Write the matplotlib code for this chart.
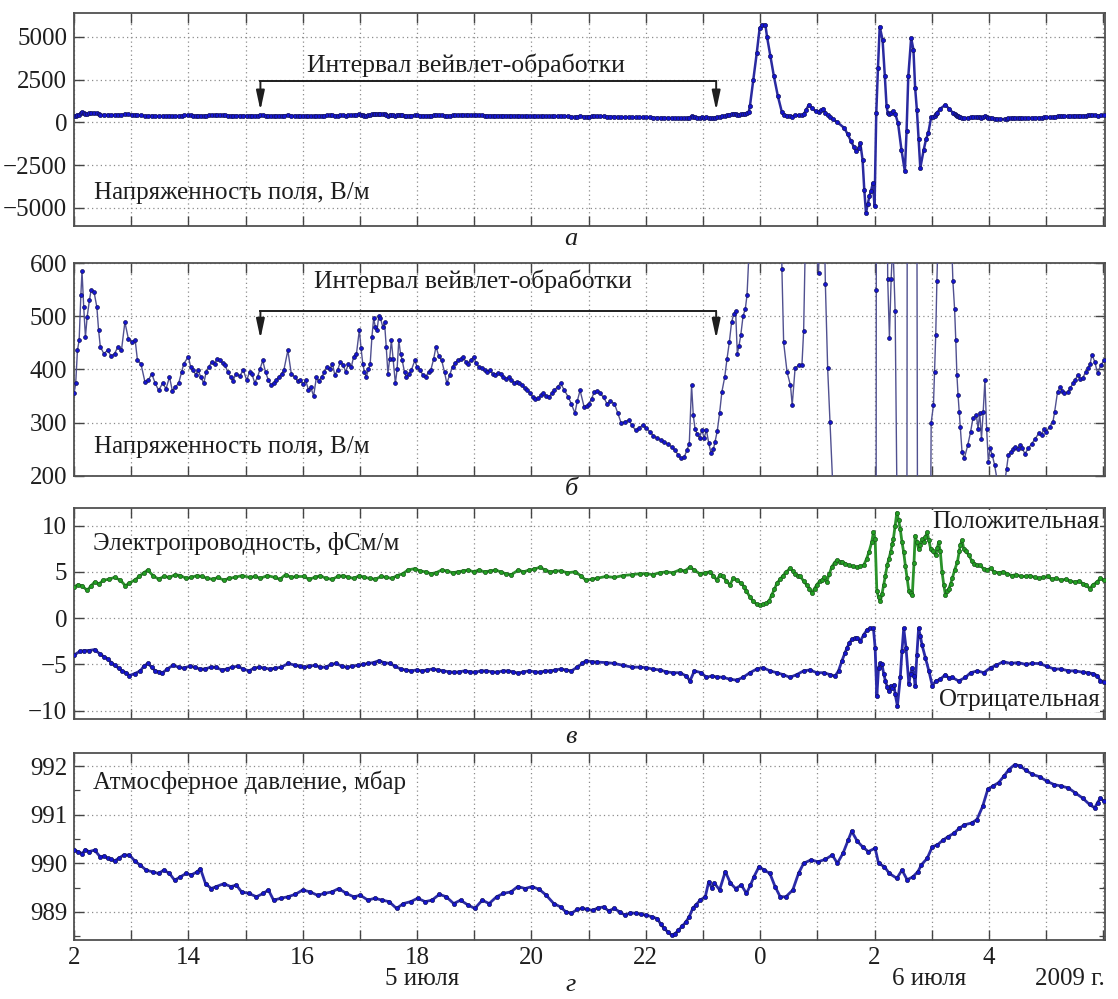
import numpy as np
import matplotlib.pyplot as plt
from matplotlib.ticker import MultipleLocator, FixedLocator, FuncFormatter
import matplotlib.transforms as mtrans

plt.rcParams['font.family'] = ['Liberation Serif', 'DejaVu Serif']

# time axis: hours from 00:00 of 4 July (24 = 00:00 of 5 July)
# field strength, V/m (panels а and б show the same record)
field_t = [12.00, 12.03, 12.06, 12.09, 12.12, 12.14, 12.17, 12.20, 12.23, 12.27, 12.30, 12.35, 12.40, 12.43, 12.46,
           12.52, 12.59, 12.65, 12.71, 12.77, 12.83, 12.89, 12.95, 13.01, 13.07, 13.11, 13.17, 13.24, 13.30, 13.36,
           13.42, 13.48, 13.55, 13.61, 13.67, 13.72, 13.77, 13.83, 13.88, 13.92, 14.00, 14.04, 14.08, 14.13, 14.17,
           14.22, 14.27, 14.31, 14.36, 14.41, 14.46, 14.50, 14.55, 14.60, 14.64, 14.69, 14.74, 14.78, 14.83, 14.90,
           14.96, 15.02, 15.07, 15.11, 15.16, 15.21, 15.25, 15.30, 15.35, 15.40, 15.45, 15.49, 15.54, 15.58, 15.63,
           15.67, 15.74, 15.80, 15.86, 15.91, 15.96, 16.01, 16.05, 16.10, 16.14, 16.19, 16.24, 16.28, 16.33, 16.38,
           16.42, 16.47, 16.52, 16.56, 16.61, 16.66, 16.71, 16.75, 16.80, 16.85, 16.89, 16.94, 16.99, 17.02, 17.05,
           17.08, 17.11, 17.15, 17.18, 17.21, 17.24, 17.27, 17.30, 17.33, 17.36, 17.40, 17.43, 17.46, 17.49, 17.52,
           17.55, 17.58, 17.62, 17.65, 17.68, 17.71, 17.74, 17.78, 17.81, 17.86, 17.90, 17.96, 18.00, 18.05, 18.10,
           18.15, 18.20, 18.24, 18.29, 18.33, 18.38, 18.43, 18.48, 18.52, 18.57, 18.62, 18.66, 18.71, 18.76, 18.80,
           18.85, 18.89, 18.94, 18.99, 19.03, 19.08, 19.13, 19.18, 19.22, 19.27, 19.32, 19.36, 19.41, 19.46, 19.50,
           19.55, 19.60, 19.65, 19.70, 19.74, 19.79, 19.83, 19.88, 19.93, 19.98, 20.02, 20.07, 20.12, 20.17, 20.21,
           20.26, 20.31, 20.36, 20.40, 20.46, 20.51, 20.57, 20.64, 20.70, 20.76, 20.80, 20.85, 20.92, 20.97, 21.01,
           21.05, 21.10, 21.15, 21.20, 21.26, 21.32, 21.38, 21.45, 21.51, 21.57, 21.63, 21.70, 21.76, 21.82, 21.88,
           21.95, 22.01, 22.07, 22.13, 22.20, 22.26, 22.32, 22.38, 22.45, 22.51, 22.57, 22.62, 22.67, 22.72, 22.76,
           22.80, 22.83, 22.86, 22.90, 22.94, 22.98, 23.02, 23.06, 23.10, 23.14, 23.18, 23.21, 23.25, 23.29, 23.33,
           23.38, 23.42, 23.46, 23.50, 23.54, 23.57, 23.60, 23.63, 23.66, 23.70, 23.74, 23.77, 23.80, 23.82, 23.88,
           23.94, 23.99, 24.03, 24.09, 24.12, 24.18, 24.24, 24.31, 24.38, 24.41, 24.47, 24.53, 24.56, 24.61, 24.67,
           24.73, 24.76, 24.80, 24.85, 24.91, 24.97, 25.02, 25.06, 25.10, 25.14, 25.18, 25.22, 25.27, 25.35, 25.47,
           25.53, 25.59, 25.64, 25.68, 25.72, 25.75, 25.79, 25.82, 25.85, 25.88, 25.91, 25.94, 25.97, 26.00, 26.03,
           26.06, 26.09, 26.14, 26.18, 26.21, 26.23, 26.26, 26.29, 26.32, 26.36, 26.41, 26.47, 26.53, 26.56, 26.59,
           26.64, 26.68, 26.71, 26.74, 26.77, 26.80, 26.86, 26.90, 26.94, 26.99, 27.03, 27.05, 27.07, 27.09, 27.15,
           27.24, 27.30, 27.37, 27.40, 27.42, 27.44, 27.46, 27.48, 27.50, 27.53, 27.57, 27.63, 27.68, 27.72, 27.78,
           27.81, 27.84, 27.87, 27.90, 27.93, 27.96, 27.99, 28.02, 28.06, 28.10, 28.14, 28.20, 28.28, 28.31, 28.34,
           28.38, 28.42, 28.46, 28.50, 28.54, 28.58, 28.63, 28.69, 28.75, 28.81, 28.87, 28.92, 28.96, 29.00, 29.06,
           29.12, 29.15, 29.20, 29.25, 29.28, 29.32, 29.38, 29.42, 29.47, 29.51, 29.55, 29.60, 29.64, 29.69, 29.73,
           29.77, 29.80, 29.85, 29.90, 29.96, 30.02]
field_v = [355, 374, 436, 455, 540, 585, 517, 461, 499, 530, 550, 546, 517, 474, 443,
           430, 436, 425, 430, 443, 436, 489, 458, 452, 455, 417, 411, 377, 380, 392,
           374, 361, 374, 364, 386, 360, 367, 374, 395, 411, 424, 405, 399, 390, 399,
           385, 374, 395, 405, 415, 411, 420, 417, 412, 408, 395, 386, 378, 392, 388,
           399, 380, 395, 392, 375, 386, 400, 417, 395, 380, 370, 374, 380, 386, 392,
           399, 436, 392, 386, 378, 380, 372, 380, 362, 367, 350, 386, 378, 386, 395,
           405, 400, 411, 390, 399, 415, 408, 395, 411, 405, 424, 430, 474, 440, 411,
           395, 386, 400, 411, 461, 496, 480, 474, 500, 496, 480, 489, 443, 392, 420,
           455, 420, 374, 400, 455, 430, 417, 395, 386, 392, 399, 417, 405, 399, 390,
           386, 395, 399, 420, 443, 425, 417, 395, 374, 390, 405, 412, 417, 420, 424,
           415, 411, 418, 424, 412, 405, 402, 399, 395, 399, 392, 389, 394, 392, 386,
           383, 385, 380, 375, 377, 374, 371, 365, 361, 355, 349, 345, 346, 352, 355,
           350, 349, 356, 361, 368, 374, 362, 349, 335, 318, 340, 361, 330, 332, 336,
           345, 358, 360, 355, 348, 336, 340, 336, 318, 299, 302, 305, 295, 286, 290,
           296, 290, 283, 276, 271, 268, 264, 260, 255, 248, 239, 233, 235, 249, 261,
           370, 314, 289, 278, 272, 286, 272, 286, 262, 243, 250, 264, 285, 318, 358,
           386, 420, 451, 489, 505, 510, 430, 445, 464, 500, 514, 540, 610, 940, 2500,
           4060, 5500, 5700, 5720, 5000, 3860, 2690, 1520, 588, 451, 395, 370, 333, 402, 408,
           408, 473, 700, 1030, 820, 640, 582, 700, 800, 560, 402, 302, 180, 0, -330,
           -700, -1110, -1450, -1700, -1500, -1210, -2180, -3940, -5300, -4800, -4330, -4000, -3550, -4910, 550,
           3200, 5600, 4840, 2690, 940, 570, 460, 570, 640, 510, -40, -1600, -2870, -500, 2690,
           4930, 4250, 2000, 740, -1000, -2670, -1600, -1000, -620, 300, 333, 396, 465, 566, 800,
           1030, 800, 566, 513, 456, 390, 352, 321, 292, 245, 233, 258, 283, 308, 314,
           289, 318, 270, 321, 380, 289, 226, 252, 239, 220, 195, 185, 190, 214, 239,
           245, 250, 255, 250, 258, 252, 242, 252, 261, 270, 280, 277, 288, 283, 292,
           302, 321, 358, 368, 360, 355, 358, 365, 374, 380, 390, 382, 384, 395, 402,
           410, 428, 415, 393, 409, 418]

# conductivity, fS/m
pos_t = [12.00, 12.07, 12.14, 12.23, 12.30, 12.36, 12.44, 12.51, 12.61, 12.71, 12.81, 12.90, 12.97, 13.06, 13.14,
         13.22, 13.29, 13.38, 13.48, 13.57, 13.67, 13.77, 13.86, 13.96, 14.05, 14.15, 14.24, 14.33, 14.43, 14.52,
         14.62, 14.71, 14.81, 14.94, 15.07, 15.17, 15.26, 15.38, 15.51, 15.60, 15.70, 15.80, 15.89, 16.02, 16.11,
         16.21, 16.31, 16.40, 16.52, 16.61, 16.71, 16.80, 16.90, 16.99, 17.08, 17.18, 17.27, 17.37, 17.46, 17.56,
         17.65, 17.75, 17.84, 17.96, 18.05, 18.15, 18.24, 18.33, 18.43, 18.52, 18.62, 18.71, 18.80, 18.89, 18.99,
         19.08, 19.18, 19.27, 19.37, 19.46, 19.55, 19.65, 19.77, 19.86, 19.96, 20.05, 20.15, 20.24, 20.33, 20.42,
         20.51, 20.63, 20.76, 20.86, 20.95, 21.05, 21.14, 21.30, 21.45, 21.60, 21.76, 21.89, 22.01, 22.12, 22.24,
         22.36, 22.47, 22.59, 22.68, 22.77, 22.85, 22.94, 23.03, 23.12, 23.18, 23.24, 23.30, 23.35, 23.41, 23.47,
         23.53, 23.59, 23.67, 23.72, 23.76, 23.82, 23.88, 23.94, 24.00, 24.05, 24.11, 24.16, 24.20, 24.25, 24.29,
         24.35, 24.40, 24.46, 24.52, 24.57, 24.61, 24.66, 24.70, 24.76, 24.81, 24.86, 24.90, 24.95, 24.99, 25.04,
         25.08, 25.12, 25.16, 25.21, 25.25, 25.30, 25.34, 25.39, 25.43, 25.49, 25.55, 25.62, 25.69, 25.75, 25.81,
         25.86, 25.90, 25.95, 25.98, 26.01, 26.04, 26.07, 26.10, 26.13, 26.16, 26.19, 26.22, 26.25, 26.28, 26.31,
         26.33, 26.36, 26.39, 26.42, 26.45, 26.48, 26.51, 26.54, 26.57, 26.60, 26.63, 26.66, 26.69, 26.71, 26.74,
         26.77, 26.80, 26.83, 26.86, 26.89, 26.92, 26.95, 26.98, 27.02, 27.07, 27.10, 27.12, 27.15, 27.18, 27.21,
         27.24, 27.27, 27.30, 27.33, 27.36, 27.40, 27.45, 27.48, 27.50, 27.53, 27.56, 27.60, 27.65, 27.70, 27.74,
         27.80, 27.85, 27.91, 27.97, 28.03, 28.09, 28.17, 28.25, 28.32, 28.40, 28.48, 28.56, 28.64, 28.72, 28.80,
         28.88, 28.95, 29.03, 29.10, 29.18, 29.26, 29.34, 29.42, 29.51, 29.58, 29.65, 29.70, 29.76, 29.82, 29.89,
         29.95, 30.01]
pos_v = [3.4, 3.6, 3.5, 3.0, 3.5, 3.9, 3.7, 4.1, 4.2, 4.4, 4.1, 3.5, 3.8, 4.1, 4.5,
         4.9, 5.2, 4.6, 4.2, 4.5, 4.4, 4.7, 4.6, 4.3, 4.4, 4.6, 4.5, 4.3, 4.2, 4.4,
         4.1, 4.3, 4.4, 4.6, 4.4, 4.5, 4.3, 4.6, 4.4, 4.2, 4.7, 4.4, 4.5, 4.5, 4.2,
         4.4, 4.6, 4.3, 4.2, 4.5, 4.6, 4.4, 4.3, 4.6, 4.4, 4.3, 4.2, 4.5, 4.4, 4.3,
         4.6, 4.8, 5.2, 5.35, 5.1, 5.0, 4.8, 4.9, 5.2, 5.1, 4.9, 5.0, 5.1, 5.2, 5.0,
         5.2, 5.0, 5.1, 5.2, 5.0, 4.8, 4.7, 5.2, 5.0, 5.2, 5.3, 5.5, 5.2, 5.0, 5.1,
         5.1, 4.9, 5.0, 4.6, 4.1, 4.2, 4.3, 4.5, 4.4, 4.6, 4.7, 4.8, 4.8, 4.7, 4.9,
         5.0, 4.9, 5.2, 5.1, 5.5, 5.2, 4.8, 4.9, 5.0, 4.6, 4.1, 4.7, 4.5, 4.0, 3.6,
         4.3, 4.1, 3.75, 3.4, 2.9, 2.3, 1.8, 1.5, 1.4, 1.5, 1.6, 1.9, 2.5, 3.1, 3.75,
         4.2, 4.6, 5.0, 5.4, 5.1, 4.8, 4.6, 4.5, 4.0, 3.6, 3.2, 2.7, 3.2, 3.6, 4.0,
         4.1, 4.4, 3.9, 4.8, 5.5, 6.0, 6.25, 6.1, 6.1, 5.9, 5.7, 5.6, 5.5, 5.6, 5.7,
         6.4, 7.1, 8.2, 9.3, 8.6, 2.9, 2.3, 1.8, 2.6, 3.6, 4.6, 5.7, 6.4, 7.1, 8.0,
         8.6, 10.0, 11.4, 10.6, 9.6, 8.2, 7.1, 5.6, 4.3, 2.9, 2.7, 2.5, 6.0, 8.9, 8.2,
         7.5, 7.9, 8.5, 8.2, 8.8, 9.3, 8.4, 7.5, 7.2, 6.8, 7.6, 8.2, 7.2, 5.0, 3.6,
         2.5, 2.9, 3.2, 3.7, 4.3, 5.2, 6.1, 7.2, 7.9, 8.4, 7.5, 7.2, 6.8, 6.2, 5.9,
         5.7, 5.7, 5.3, 5.2, 5.4, 5.0, 4.9, 5.0, 4.8, 4.6, 4.7, 4.5, 4.5, 4.6, 4.4,
         4.3, 4.4, 4.5, 4.2, 4.3, 4.1, 4.2, 4.0, 3.9, 4.0, 3.7, 3.6, 3.2, 3.6, 3.9,
         4.3, 4.1]

neg_t = [12.00, 12.10, 12.18, 12.26, 12.36, 12.46, 12.53, 12.59, 12.65, 12.71, 12.78, 12.84, 12.91, 12.97, 13.06,
         13.16, 13.22, 13.29, 13.36, 13.42, 13.48, 13.54, 13.63, 13.73, 13.83, 13.92, 14.02, 14.11, 14.20, 14.29,
         14.39, 14.48, 14.58, 14.67, 14.76, 14.86, 14.96, 15.06, 15.15, 15.24, 15.33, 15.43, 15.52, 15.62, 15.75,
         15.87, 15.95, 16.02, 16.11, 16.21, 16.31, 16.40, 16.50, 16.59, 16.68, 16.77, 16.87, 16.96, 17.05, 17.15,
         17.24, 17.33, 17.42, 17.52, 17.62, 17.71, 17.81, 17.90, 17.99, 18.08, 18.18, 18.27, 18.37, 18.46, 18.56,
         18.65, 18.74, 18.83, 18.93, 19.02, 19.11, 19.21, 19.31, 19.40, 19.50, 19.59, 19.68, 19.77, 19.86, 19.96,
         20.06, 20.15, 20.24, 20.33, 20.42, 20.51, 20.60, 20.70, 20.80, 20.89, 20.95, 21.05, 21.14, 21.30, 21.45,
         21.60, 21.76, 21.89, 22.01, 22.12, 22.24, 22.36, 22.47, 22.59, 22.71, 22.77, 22.85, 22.97, 23.06, 23.15,
         23.24, 23.35, 23.47, 23.59, 23.70, 23.82, 23.94, 24.05, 24.17, 24.29, 24.40, 24.52, 24.64, 24.76, 24.87,
         24.99, 25.11, 25.22, 25.31, 25.37, 25.43, 25.48, 25.52, 25.56, 25.60, 25.65, 25.69, 25.75, 25.81, 25.87,
         25.92, 25.98, 26.01, 26.04, 26.07, 26.10, 26.13, 26.16, 26.19, 26.22, 26.25, 26.28, 26.31, 26.34, 26.36,
         26.40, 26.45, 26.48, 26.51, 26.55, 26.60, 26.63, 26.66, 26.69, 26.71, 26.74, 26.77, 26.80, 26.83, 26.89,
         26.95, 27.01, 27.07, 27.15, 27.24, 27.30, 27.36, 27.47, 27.59, 27.68, 27.80, 27.91, 28.03, 28.13, 28.25,
         28.38, 28.51, 28.64, 28.76, 28.89, 29.01, 29.14, 29.26, 29.39, 29.51, 29.64, 29.73, 29.82, 29.89, 29.95,
         30.01]
neg_v = [-4.0, -3.6, -3.5, -3.5, -3.4, -3.9, -4.2, -4.4, -4.8, -5.1, -5.4, -5.7, -5.9, -6.2, -6.0,
         -5.7, -5.2, -4.9, -5.3, -5.7, -5.8, -5.95, -5.5, -5.1, -5.3, -5.4, -5.2, -5.3, -5.5, -5.5,
         -5.3, -5.3, -5.6, -5.5, -5.3, -5.2, -5.5, -5.7, -5.4, -5.3, -5.4, -5.5, -5.4, -5.3, -4.9,
         -5.1, -5.2, -5.3, -5.2, -5.1, -5.3, -5.3, -5.0, -4.9, -5.2, -5.3, -5.2, -5.1, -5.0, -4.9,
         -4.8, -4.6, -4.8, -4.9, -5.2, -5.5, -5.6, -5.7, -5.6, -5.7, -5.6, -5.5, -5.6, -5.7, -5.8,
         -5.85, -5.8, -5.7, -5.8, -5.85, -5.7, -5.7, -5.8, -5.85, -5.7, -5.7, -5.8, -5.95, -5.8, -5.7,
         -5.8, -5.85, -5.7, -5.7, -5.6, -5.5, -5.6, -5.7, -5.3, -4.9, -4.6, -4.7, -4.75, -4.8, -4.9,
         -5.1, -5.3, -5.3, -5.35, -5.5, -5.6, -5.8, -5.9, -5.9, -6.25, -6.8, -5.7, -5.9, -6.4, -6.25,
         -6.35, -6.4, -6.6, -6.7, -6.4, -5.9, -5.5, -5.35, -5.7, -5.9, -6.1, -6.4, -6.1, -5.7, -5.6,
         -5.9, -5.9, -6.1, -6.25, -5.7, -4.6, -3.8, -3.2, -2.7, -2.3, -2.2, -2.1, -2.5, -1.8, -1.25,
         -1.1, -1.1, -3.2, -8.4, -5.35, -4.9, -5.0, -6.0, -6.8, -7.4, -7.9, -7.3, -7.5, -7.2, -8.2,
         -9.5, -6.4, -3.5, -1.1, -3.2, -7.1, -6.0, -5.35, -6.2, -7.3, -4.0, -1.1, -1.9, -2.9, -4.3,
         -5.7, -7.3, -6.8, -6.6, -6.1, -6.5, -6.4, -6.8, -6.4, -5.9, -5.7, -5.9, -5.35, -5.1, -4.7,
         -4.9, -4.8, -5.0, -4.9, -4.9, -5.2, -5.5, -5.5, -5.7, -5.7, -5.85, -5.9, -6.0, -6.2, -6.75,
         -6.9]

# atmospheric pressure, mbar
pres_t = [12.00, 12.07, 12.14, 12.20, 12.26, 12.36, 12.46, 12.53, 12.59, 12.65, 12.71, 12.78, 12.87, 12.97, 13.06,
          13.16, 13.26, 13.38, 13.48, 13.57, 13.67, 13.76, 13.86, 13.96, 14.05, 14.15, 14.21, 14.30, 14.40, 14.49,
          14.62, 14.74, 14.84, 14.93, 15.06, 15.19, 15.31, 15.40, 15.49, 15.62, 15.74, 15.87, 16.00, 16.13, 16.26,
          16.38, 16.51, 16.63, 16.76, 16.89, 17.01, 17.14, 17.26, 17.39, 17.51, 17.64, 17.76, 17.89, 18.01, 18.14,
          18.26, 18.39, 18.51, 18.64, 18.76, 18.89, 19.01, 19.14, 19.26, 19.39, 19.51, 19.64, 19.76, 19.89, 20.01,
          20.14, 20.26, 20.39, 20.51, 20.60, 20.70, 20.80, 20.89, 20.98, 21.07, 21.16, 21.26, 21.35, 21.45, 21.54,
          21.64, 21.73, 21.82, 21.92, 22.01, 22.10, 22.20, 22.26, 22.32, 22.39, 22.45, 22.51, 22.57, 22.63, 22.70,
          22.76, 22.82, 22.88, 22.95, 23.04, 23.10, 23.15, 23.20, 23.29, 23.39, 23.48, 23.57, 23.67, 23.76, 23.83,
          23.89, 23.98, 24.07, 24.17, 24.26, 24.35, 24.45, 24.57, 24.67, 24.76, 24.89, 25.01, 25.14, 25.26, 25.35,
          25.45, 25.54, 25.60, 25.70, 25.79, 25.89, 26.01, 26.07, 26.17, 26.26, 26.39, 26.48, 26.57, 26.67, 26.76,
          26.82, 26.92, 27.01, 27.10, 27.20, 27.29, 27.39, 27.48, 27.57, 27.70, 27.79, 27.89, 27.98, 28.07, 28.17,
          28.26, 28.35, 28.45, 28.54, 28.64, 28.76, 28.89, 29.01, 29.14, 29.26, 29.39, 29.51, 29.64, 29.76, 29.85,
          29.90, 29.95, 30.01]
pres_v = [990.27, 990.24, 990.2, 990.28, 990.24, 990.27, 990.13, 990.15, 990.1, 990.08, 990.05, 990.1, 990.17, 990.17, 990.05,
          989.96, 989.86, 989.82, 989.79, 989.86, 989.79, 989.65, 989.72, 989.79, 989.76, 989.82, 989.89, 989.58, 989.48, 989.52,
          989.58, 989.52, 989.55, 989.41, 989.38, 989.31, 989.38, 989.45, 989.24, 989.28, 989.31, 989.36, 989.45, 989.41, 989.34,
          989.38, 989.41, 989.48, 989.38, 989.31, 989.34, 989.24, 989.28, 989.24, 989.21, 989.07, 989.17, 989.21, 989.28, 989.21,
          989.24, 989.36, 989.31, 989.17, 989.24, 989.14, 989.07, 989.24, 989.17, 989.31, 989.38, 989.41, 989.52, 989.48, 989.52,
          989.46, 989.34, 989.17, 989.1, 989.0, 988.97, 989.05, 989.07, 989.05, 989.03, 989.08, 989.1, 989.02, 989.07, 989.0,
          988.93, 988.98, 988.97, 988.95, 988.93, 988.9, 988.86, 988.75, 988.66, 988.58, 988.52, 988.55, 988.62, 988.7, 988.79,
          988.9, 989.07, 989.15, 989.24, 989.31, 989.62, 989.5, 989.59, 989.45, 989.83, 989.59, 989.48, 989.55, 989.38, 989.55,
          989.72, 989.93, 989.86, 989.79, 989.52, 989.31, 989.31, 989.45, 989.79, 990.0, 990.07, 990.03, 990.08, 990.17, 990.0,
          990.21, 990.48, 990.66, 990.45, 990.34, 990.24, 990.31, 990.0, 989.93, 989.79, 989.69, 989.86, 989.66, 989.72, 989.83,
          989.97, 990.1, 990.34, 990.38, 990.48, 990.55, 990.62, 990.72, 990.79, 990.83, 990.9, 991.17, 991.52, 991.59, 991.66,
          991.79, 991.93, 992.03, 992.01, 991.92, 991.83, 991.78, 991.69, 991.62, 991.59, 991.55, 991.45, 991.34, 991.21, 991.14,
          991.25, 991.34, 991.28]

hour_labels = {12: '2', 14: '14', 16: '16', 18: '18', 20: '20', 22: '22', 24: '0', 26: '2', 28: '4'}

W, H = 1118, 999
L, R = 74, 1105
boxes_px = [(13, 226), (263, 476), (508, 719), (753, 940)]
fig = plt.figure(figsize=(W / 100, H / 100), dpi=100)
axes = [fig.add_axes([L / W, 1 - b / H, (R - L) / W, (b - t) / H]) for t, b in boxes_px]

ink = '#1e1e1e'
FS = 18
blue_face, blue_edge, blue_line = '#1414d2', '#14145a', '#505090'
green_face, green_edge, green_line = '#22a022', '#1c561c', '#3c8a3c'


def style(ax, show_labels=False):
    ax.set_xlim(12, 30.03)
    ax.xaxis.set_major_locator(MultipleLocator(1))
    ax.xaxis.set_major_formatter(FuncFormatter(lambda v, p: hour_labels.get(int(round(v)), '')))
    ax.tick_params(direction='in', top=True, right=True, length=7, width=1.0, color='#444444',
                   labelsize=FS, labelcolor=ink, pad=5, labelbottom=show_labels)
    ax.tick_params(which='minor', direction='in', right=True, length=4, width=0.9, color='#444444')
    ax.grid(True, ls=(0, (1, 2.5)), color='#8c8c8c', lw=0.9)
    ax.set_axisbelow(True)
    for s in ax.spines.values():
        s.set_color('#505050')
        s.set_linewidth(1.3)


def draw(ax, t, v, face, edge, line, lw=1.0, ms=2.8):
    ax.plot(t, v, '-', color=line, lw=lw, marker='o', ms=ms, mfc=face, mec=edge, mew=0.5, zorder=3)


def bracket(ax, x1, x2, y_line, y_tip, label, x_text, y_text):
    ax.plot([x1, x2], [y_line, y_line], color=ink, lw=1.4, zorder=4)
    for x in (x1, x2):
        ax.annotate('', xy=(x, y_tip), xytext=(x, y_line),
                    arrowprops=dict(arrowstyle='-|>,head_width=0.14,head_length=0.65', color=ink, lw=1.4,
                                    mutation_scale=18, shrinkA=0, shrinkB=0), zorder=4)
    ax.text(x_text, y_text, label, ha='center', va='center', fontsize=FS + 0.5, color=ink)


ax1, ax2, ax3, ax4 = axes

# а
style(ax1)
draw(ax1, field_t, field_v, blue_face, blue_edge, '#2a2aa0', lw=1.8, ms=3.0)
ax1.set_ylim(-6070, 6400)
ax1.set_yticks([-5000, -2500, 0, 2500, 5000])
bracket(ax1, 15.26, 23.23, 2400, 700, 'Интервал вейвлет-обработки', 18.85, 3350)
ax1.text(12.35, -4150, 'Напряженность поля, В/м', fontsize=FS, color=ink, va='center')

# б
style(ax2)
draw(ax2, field_t, field_v, blue_face, blue_edge, blue_line)
ax2.set_ylim(200, 600)
ax2.set_yticks([200, 300, 400, 500, 600])
bracket(ax2, 15.26, 23.23, 509, 458, 'Интервал вейвлет-обработки', 18.97, 565)
ax2.text(12.35, 254, 'Напряженность поля, В/м', fontsize=FS, color=ink, va='center')

# в
style(ax3)
draw(ax3, pos_t, pos_v, green_face, green_edge, '#2a922a', lw=2.0, ms=3.0)
draw(ax3, neg_t, neg_v, blue_face, blue_edge, '#2a2aa8', lw=2.0, ms=3.0)
ax3.set_ylim(-10.9, 11.9)
ax3.set_yticks([-10, -5, 0, 5, 10])
ax3.text(12.33, 8.1, 'Электропроводность, фСм/м', fontsize=FS, color=ink, va='center')
ax3.text(29.93, 10.4, 'Положительная', fontsize=FS, color=ink, va='center', ha='right', zorder=5,
         bbox=dict(facecolor='white', edgecolor='none', pad=0.5))
ax3.text(29.93, -8.9, 'Отрицательная', fontsize=FS, color=ink, va='center', ha='right', zorder=5,
         bbox=dict(facecolor='white', edgecolor='none', pad=0.5))

# г
style(ax4, show_labels=True)
draw(ax4, pres_t, pres_v, blue_face, blue_edge, '#2a2aa8', lw=2.0, ms=3.0)
ax4.set_ylim(988.42, 992.27)
ax4.set_yticks([989, 990, 991, 992])
ax4.yaxis.set_minor_locator(FixedLocator([988.5, 989.5, 990.5, 991.5]))
ax4.tick_params(axis='x', which='minor', length=0)
ax4.text(12.33, 991.66, 'Атмосферное давление, мбар', fontsize=FS, color=ink, va='center')

tr = mtrans.blended_transform_factory(ax4.transData, ax4.transAxes)
ax4.text(18.08, -0.21, '5 июля', transform=tr, ha='center', va='center', fontsize=FS, color=ink)
ax4.text(26.96, -0.21, '6 июля', transform=tr, ha='center', va='center', fontsize=FS, color=ink)
ax4.text(30.03, -0.21, '2009 г.', transform=tr, ha='right', va='center', fontsize=FS, color=ink)

for letter, ypx in zip(['а', 'б', 'в', 'г'], [239, 489, 737, 985]):
    fig.text(571 / W, 1 - ypx / H, letter, ha='center', va='center', fontsize=19, style='italic', color=ink)

fig.savefig('out.png', dpi=100, facecolor='white')
